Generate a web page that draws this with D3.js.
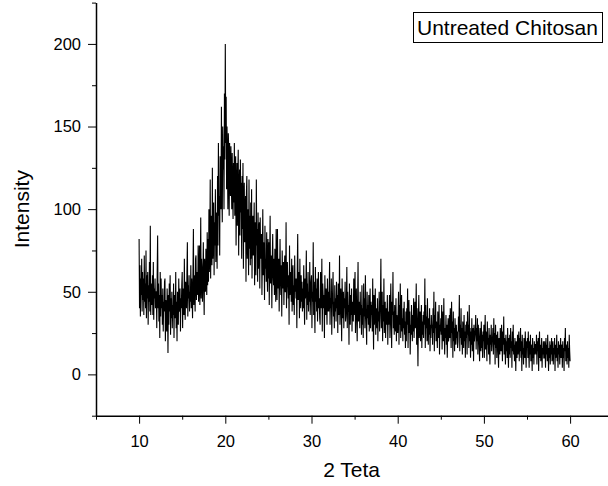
<!DOCTYPE html>
<html>
<head>
<meta charset="utf-8">
<script src="https://cdn.jsdelivr.net/npm/d3@7"></script>
<style>
  body { margin: 0; background: #fff; }
  .axis text { font-family: "Liberation Sans", Arial, sans-serif; font-size: 16.5px; fill: #000; }
  .axis path, .axis line { stroke: #000; }
</style>
</head>
<body>
<div id="chart"></div>
<script>
// XRD scan: one value every 0.05 degree from 10 to 60
const thetaStart = 10;
const thetaStep = 0.05;
const intensity = [
  82, 40, 66, 35, 58, 48, 70, 38, 62, 45, 58, 36, 72, 44, 55, 40, 75, 34, 60, 46,   // 10
  62, 30, 54, 44, 68, 38, 90, 36, 55, 48, 42, 60, 36, 68, 33, 52, 46, 58, 40, 50,   // 11
  50, 28, 62, 84, 40, 55, 32, 48, 22, 62, 35, 58, 40, 48, 30, 52, 26, 44, 38, 56,   // 12
  58, 20, 45, 36, 26, 52, 40, 13, 48, 30, 55, 38, 60, 24, 46, 34, 50, 28, 42, 36,   // 13
  55, 22, 48, 38, 34, 62, 28, 44, 20, 50, 36, 30, 58, 42, 38, 52, 26, 46, 40, 54,   // 14
  62, 28, 52, 44, 36, 70, 40, 33, 56, 48, 40, 62, 80, 35, 54, 46, 60, 38, 50, 44,   // 15
  66, 40, 58, 48, 34, 62, 88, 42, 60, 52, 38, 70, 72, 45, 56, 62, 48, 78, 44, 58,   // 16
  78, 42, 60, 95, 46, 70, 64, 44, 56, 80, 52, 36, 70, 60, 50, 76, 58, 48, 86, 54,   // 17
  82, 56, 100, 62, 74, 118, 58, 88, 96, 66, 125, 70, 84, 104, 60, 92, 78, 112, 68, 98, // 18
  90, 64, 120, 78, 140, 96, 108, 72, 132, 118, 100, 162, 110, 92, 150, 124, 138, 100, 170, 130, // 19
  200, 140, 168, 112, 150, 128, 100, 146, 136, 96, 140, 124, 108, 138, 118, 100, 134, 112, 94, 128, // 20
  104, 140, 96, 122, 132, 78, 110, 128, 90, 120, 136, 72, 108, 124, 84, 130, 98, 116, 70, 120, // 21
  88, 128, 64, 104, 116, 80, 94, 108, 56, 110, 120, 70, 92, 100, 60, 118, 76, 96, 66, 104, // 22
  70, 112, 58, 90, 96, 72, 84, 104, 54, 92, 74, 60, 118, 78, 88, 56, 98, 64, 86, 92, // 23
  52, 95, 70, 78, 85, 48, 72, 100, 60, 80, 78, 45, 90, 64, 70, 56, 86, 62, 50, 82,  // 24
  58, 80, 42, 72, 96, 55, 66, 72, 40, 70, 85, 60, 54, 70, 48, 76, 62, 44, 88, 58,   // 25
  45, 88, 52, 66, 70, 38, 60, 82, 56, 48, 66, 35, 75, 58, 52, 68, 42, 64, 72, 50,   // 26
  50, 92, 40, 62, 68, 55, 46, 60, 30, 78, 48, 56, 62, 44, 70, 38, 58, 66, 42, 54,   // 27
  36, 72, 50, 58, 46, 58, 28, 64, 85, 45, 52, 62, 34, 70, 48, 40, 60, 44, 56, 38,   // 28
  52, 40, 66, 46, 30, 58, 46, 54, 75, 33, 55, 42, 62, 38, 50, 44, 68, 36, 48, 56,   // 29
  60, 28, 50, 44, 80, 36, 56, 42, 25, 65, 44, 52, 38, 58, 32, 48, 62, 40, 46, 34,   // 30
  30, 62, 45, 40, 70, 26, 55, 48, 40, 48, 22, 60, 44, 36, 52, 42, 30, 58, 38, 50,   // 31
  38, 50, 68, 30, 46, 40, 58, 24, 42, 50, 62, 35, 44, 28, 54, 38, 46, 32, 56, 40,   // 32
  48, 25, 55, 40, 36, 72, 30, 44, 52, 38, 20, 58, 42, 34, 50, 28, 46, 40, 56, 32,   // 33
  35, 45, 65, 28, 50, 38, 42, 18, 55, 42, 30, 48, 36, 52, 26, 44, 40, 32, 58, 36,   // 34
  48, 62, 25, 40, 52, 34, 20, 45, 68, 32, 38, 44, 28, 50, 36, 42, 24, 54, 30, 40,   // 35
  22, 55, 35, 46, 28, 60, 40, 32, 18, 50, 34, 42, 30, 48, 26, 38, 52, 28, 44, 36,   // 36
  42, 26, 58, 36, 15, 48, 30, 38, 52, 24, 40, 34, 28, 46, 20, 38, 32, 50, 26, 36,   // 37
  46, 70, 28, 38, 50, 20, 42, 32, 58, 25, 36, 44, 22, 40, 30, 34, 48, 18, 38, 30,   // 38
  35, 48, 22, 40, 55, 30, 16, 44, 36, 62, 28, 38, 24, 42, 32, 26, 46, 20, 36, 30,   // 39
  25, 38, 50, 18, 42, 30, 55, 22, 36, 48, 26, 34, 20, 40, 28, 44, 24, 32, 16, 38,   // 40
  20, 40, 30, 52, 16, 35, 45, 25, 38, 12, 30, 24, 42, 28, 20, 36, 26, 46, 22, 32,   // 41
  44, 28, 36, 55, 18, 40, 26, 5, 34, 48, 22, 30, 38, 20, 28, 42, 16, 32, 24, 36,    // 42
  22, 38, 30, 58, 16, 42, 28, 35, 20, 46, 26, 18, 34, 24, 40, 14, 30, 22, 36, 28,   // 43
  30, 18, 40, 25, 50, 14, 36, 28, 44, 20, 32, 24, 16, 38, 26, 22, 42, 12, 30, 26,   // 44
  34, 24, 42, 15, 30, 38, 20, 46, 26, 12, 28, 22, 36, 18, 30, 10, 26, 34, 20, 24,   // 45
  36, 22, 40, 28, 16, 44, 25, 32, 10, 38, 20, 28, 14, 34, 24, 18, 30, 22, 26, 16,   // 46
  20, 35, 26, 48, 14, 30, 22, 40, 18, 28, 12, 32, 24, 16, 36, 20, 26, 10, 30, 22,   // 47
  32, 12, 38, 24, 30, 16, 42, 20, 28, 10, 26, 18, 34, 14, 22, 28, 8, 30, 20, 24,    // 48
  26, 36, 15, 28, 20, 34, 12, 30, 24, 18, 8, 28, 22, 14, 32, 16, 24, 10, 26, 20,    // 49
  30, 10, 24, 36, 15, 26, 20, 8, 32, 18, 22, 12, 28, 16, 6, 24, 18, 30, 14, 20,     // 50
  22, 28, 12, 34, 18, 25, 6, 30, 16, 24, 10, 20, 26, 14, 4, 22, 18, 12, 28, 16,     // 51
  14, 30, 20, 8, 26, 18, 35, 12, 22, 16, 6, 24, 14, 20, 10, 28, 16, 4, 22, 12,      // 52
  24, 10, 28, 16, 20, 4, 26, 14, 30, 12, 18, 8, 22, 14, 2, 20, 16, 10, 24, 12,      // 53
  18, 26, 8, 22, 14, 28, 10, 20, 2, 24, 12, 16, 6, 22, 18, 10, 26, 14, 4, 20,       // 54
  16, 22, 10, 26, 14, 4, 20, 12, 24, 8, 18, 14, 2, 22, 10, 16, 6, 20, 12, 18,       // 55
  18, 12, 24, 6, 20, 14, 22, 2, 16, 26, 10, 18, 8, 14, 22, 4, 16, 12, 20, 10,       // 56
  10, 20, 14, 4, 22, 12, 18, 8, 24, 14, 2, 16, 10, 20, 6, 18, 12, 22, 8, 14,        // 57
  20, 6, 16, 12, 22, 2, 18, 10, 14, 24, 8, 16, 4, 20, 12, 18, 6, 14, 22, 10,        // 58
  12, 18, 4, 20, 10, 16, 2, 22, 14, 28, 8, 18, 12, 6, 20, 10, 16, 4, 24, 14,        // 59
  8                                                                                 // 60
];
const xMajor = [10, 20, 30, 40, 50, 60];
const xMinor = [5, 15, 25, 35, 45, 55, 65];
const yMajor = [0, 50, 100, 150, 200];
const yMinor = [-25, 25, 75, 125, 175, 225];
const legendLabel = "Untreated Chitosan";

const W = 608, H = 486;
const plot = { left: 96, top: 2.6, right: 613.2, bottom: 415.7 };

const data = intensity.map((v, i) => ({ t: thetaStart + i * thetaStep, v: v }));

const x = d3.scaleLinear().domain([5, 65]).range([plot.left, plot.right]);
const y = d3.scaleLinear().domain([-25, 225]).range([plot.bottom, plot.top]);

const svg = d3.select("#chart").append("svg")
  .attr("width", W)
  .attr("height", H);

// pattern
const line = d3.line().x(d => x(d.t)).y(d => y(d.v));
svg.append("path")
  .datum(data)
  .attr("d", line)
  .attr("fill", "none")
  .attr("stroke", "#000")
  .attr("stroke-width", 1.1);

// minor ticks first, then major ticks with labels
svg.append("g")
  .attr("class", "axis")
  .attr("transform", `translate(0,${plot.bottom})`)
  .call(d3.axisBottom(x).tickValues(xMinor).tickSize(4).tickFormat(""))
  .call(g => g.select(".domain").remove());

svg.append("g")
  .attr("class", "axis")
  .attr("transform", `translate(0,${plot.bottom})`)
  .call(d3.axisBottom(x).tickValues(xMajor).tickSize(8).tickSizeOuter(0).tickPadding(12))
  .call(g => g.select(".domain").attr("stroke-width", 1.5));

svg.append("g")
  .attr("class", "axis")
  .attr("transform", `translate(${plot.left},0)`)
  .call(d3.axisLeft(y).tickValues(yMinor).tickSize(4).tickFormat(""))
  .call(g => g.select(".domain").remove());

svg.append("g")
  .attr("class", "axis")
  .attr("transform", `translate(${plot.left},0)`)
  .call(d3.axisLeft(y).tickValues(yMajor).tickSize(8).tickSizeOuter(0).tickPadding(7))
  .call(g => g.select(".domain").attr("stroke-width", 1.5));

// axis titles
svg.append("text")
  .attr("x", (x(5) + x(65)) / 2 - 3)
  .attr("y", 476.5)
  .attr("text-anchor", "middle")
  .style("font-family", "Liberation Sans, Arial, sans-serif")
  .style("font-size", "21px")
  .text("2 Teta");

svg.append("text")
  .attr("transform", `translate(29,${(plot.top + plot.bottom) / 2}) rotate(-90)`)
  .attr("text-anchor", "middle")
  .style("font-family", "Liberation Sans, Arial, sans-serif")
  .style("font-size", "21px")
  .text("Intensity");

// legend box
svg.append("rect")
  .attr("x", 413.5)
  .attr("y", 12.5)
  .attr("width", 189)
  .attr("height", 30)
  .attr("fill", "#fff")
  .attr("stroke", "#000")
  .attr("stroke-width", 1);

svg.append("text")
  .attr("x", 417)
  .attr("y", 35)
  .style("font-family", "Liberation Sans, Arial, sans-serif")
  .style("font-size", "21px")
  .text(legendLabel);
</script>
</body>
</html>
